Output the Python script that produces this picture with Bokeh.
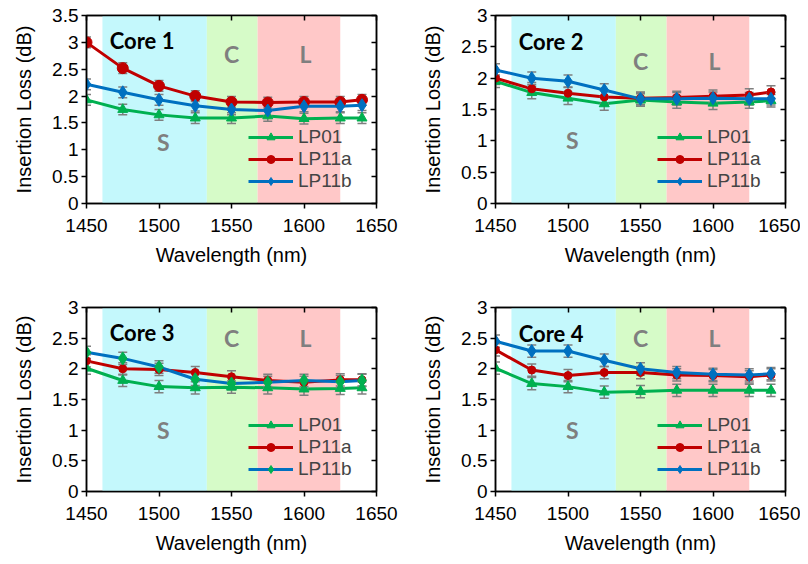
from bokeh.plotting import figure
from bokeh.models import (Range1d, LinearAxis, Legend, LegendItem, FixedTicker,
                          CustomJSTickFormatter)
from bokeh.layouts import column, row
from bokeh.embed import file_html
from bokeh.resources import INLINE
from bokeh.core.properties import value

# ---------------- data ----------------
wavelength = [1450, 1475, 1500, 1525, 1550, 1575, 1600, 1625, 1640]
x_ticks = [1450, 1500, 1550, 1600, 1650]
err = 0.1

band_names = ["S", "C", "L"]
band_start = [1461, 1533, 1568]
band_end = [1533, 1568, 1625]
band_label_x = [1503, 1550, 1601]

core_titles = ["Core 1", "Core 2", "Core 3", "Core 4"]
core_ymax = [3.5, 3.0, 3.0, 3.0]
core_title_y = [3.04, 2.59, 2.60, 2.58]
core_s_y = [1.14, 1.02, 1.01, 1.01]
core_cl_y = [2.78, 2.27, 2.50, 2.50]

core1_lp01 = [1.93, 1.75, 1.65, 1.59, 1.59, 1.63, 1.58, 1.59, 1.59]
core1_lp11a = [3.00, 2.52, 2.19, 2.00, 1.89, 1.88, 1.89, 1.89, 1.93]
core1_lp11b = [2.22, 2.07, 1.93, 1.82, 1.75, 1.73, 1.81, 1.81, 1.83]

core2_lp01 = [1.95, 1.77, 1.68, 1.59, 1.65, 1.62, 1.60, 1.62, 1.64]
core2_lp11a = [2.00, 1.83, 1.76, 1.70, 1.68, 1.69, 1.71, 1.73, 1.78]
core2_lp11b = [2.13, 2.00, 1.95, 1.81, 1.67, 1.67, 1.68, 1.67, 1.67]

core3_lp01 = [2.01, 1.81, 1.71, 1.69, 1.70, 1.69, 1.67, 1.68, 1.69]
core3_lp11a = [2.13, 2.00, 1.99, 1.94, 1.87, 1.81, 1.78, 1.82, 1.82]
core3_lp11b = [2.27, 2.17, 2.03, 1.83, 1.76, 1.78, 1.81, 1.79, 1.81]

core4_lp01 = [2.01, 1.76, 1.71, 1.62, 1.63, 1.65, 1.65, 1.65, 1.65]
core4_lp11a = [2.31, 1.98, 1.89, 1.94, 1.94, 1.90, 1.89, 1.87, 1.90]
core4_lp11b = [2.45, 2.29, 2.29, 2.14, 2.00, 1.94, 1.91, 1.90, 1.92]

series_names = ["LP01", "LP11a", "LP11b"]

# ---------------- style ----------------
GREEN = "#00B050"
RED = "#C00000"
BLUE = "#0070C0"
GRAY = "#7F7F7F"
band_colors = ["#C4F8FC", "#D6FBC8", "#FFC8C8"]
FONT = "Arial"
LABEL_FONT = "Lato"


def make_panel(idx, ys, width, height, bl, br, bt, bb, red_size, diamond_color):
    ymax = core_ymax[idx]
    p = figure(width=width, height=height, output_backend="svg", toolbar_location=None,
               x_range=Range1d(1450, 1650), y_range=Range1d(0, ymax),
               min_border_left=bl, min_border_right=br, min_border_top=bt, min_border_bottom=bb)
    p.grid.visible = False
    p.outline_line_color = "black"
    p.outline_line_width = 1.5
    p.background_fill_color = "white"
    p.border_fill_color = "white"

    # bands
    p.quad(left=band_start, right=band_end, bottom=[0] * 3, top=[ymax] * 3,
           fill_color=band_colors, line_color=None)

    colors = [GREEN, RED, BLUE]
    markers = ["triangle", "circle", "diamond"]
    msizes = [10, red_size, 13]
    mcolors = [GREEN, RED, diamond_color]
    items = []
    line_rs = []
    for k, y in enumerate(ys):
        lr = p.line(wavelength, y, line_color=colors[k], line_width=3)
        line_rs.append(lr)
    # error bars
    for k, y in enumerate(ys):
        lo = [v - err for v in y]
        hi = [v + err for v in y]
        p.segment(x0=wavelength, y0=lo, x1=wavelength, y1=hi, line_color=GRAY, line_width=1.5)
        p.scatter(wavelength, lo, marker="dash", size=9, line_color=GRAY, line_width=1.5)
        p.scatter(wavelength, hi, marker="dash", size=9, line_color=GRAY, line_width=1.5)
    for k, y in enumerate(ys):
        sr = p.scatter(wavelength, y, marker=markers[k], size=msizes[k],
                       fill_color=mcolors[k], line_color=mcolors[k])
        items.append(LegendItem(label=series_names[k], renderers=[line_rs[k], sr]))

    # band labels
    p.text(x=band_label_x, y=[core_s_y[idx], core_cl_y[idx], core_cl_y[idx]], text=band_names,
           text_font=value(LABEL_FONT), text_font_style="bold", text_font_size="23px",
           text_color=GRAY, text_align="center", text_baseline="middle")
    p.text(x=[1466], y=[core_title_y[idx]], text=[core_titles[idx]],
           text_font=value(LABEL_FONT), text_font_style="bold", text_font_size="22px",
           text_color="black", text_align="left", text_baseline="middle")

    legend = Legend(items=items, location=(162, 11))
    legend.label_text_font = FONT
    legend.label_text_font_size = "19px"
    legend.glyph_width = 45
    legend.glyph_height = 20
    legend.label_height = 20
    legend.spacing = 0
    legend.padding = 0
    legend.margin = 0
    legend.label_standoff = 5
    legend.border_line_color = None
    legend.background_fill_alpha = 0
    p.add_layout(legend)

    yticks = [i * 0.5 for i in range(int(ymax / 0.5) + 1)]
    p.xaxis.ticker = FixedTicker(ticks=x_ticks)
    p.yaxis.ticker = FixedTicker(ticks=yticks)
    for ax in (p.xaxis[0], p.yaxis[0]):
        ax.axis_line_width = 1.5
        ax.axis_line_color = "black"
        ax.major_tick_line_width = 1.5
        ax.major_tick_out = 5
        ax.major_tick_in = 0
        ax.minor_tick_line_color = None
        ax.major_label_text_font = FONT
        ax.major_label_text_font_size = "19px"
        ax.major_label_text_color = "black"
        ax.axis_label_text_font = FONT
        ax.axis_label_text_font_size = "20px"
        ax.axis_label_text_font_style = "normal"
        ax.axis_label_text_color = "black"
    p.xaxis.axis_label = "Wavelength (nm)"
    p.yaxis.axis_label = "Insertion Loss (dB)"
    p.xaxis.major_label_standoff = 10
    p.xaxis.axis_label_standoff = 9
    p.yaxis.major_label_standoff = 3
    p.yaxis.axis_label_standoff = 14

    blank = CustomJSTickFormatter(code="return '';")
    top = LinearAxis(ticker=FixedTicker(ticks=x_ticks), major_tick_in=5, major_tick_out=0,
                     minor_tick_line_color=None, axis_line_width=1.5, major_tick_line_width=1.5,
                     formatter=blank, major_label_standoff=0)
    right = LinearAxis(ticker=FixedTicker(ticks=yticks), major_tick_in=5, major_tick_out=0,
                       minor_tick_line_color=None, axis_line_width=1.5, major_tick_line_width=1.5,
                       formatter=blank, major_label_standoff=0)
    p.add_layout(top, "above")
    p.add_layout(right, "right")
    return p


p1 = make_panel(0, [core1_lp01, core1_lp11a, core1_lp11b], 417, 298, 86, 41, 15, 95, 11, BLUE)
p2 = make_panel(1, [core2_lp01, core2_lp11a, core2_lp11b], 383, 298, 78, 15, 15, 95, 8, BLUE)
p3 = make_panel(2, [core3_lp01, core3_lp11a, core3_lp11b], 417, 258, 86, 41, 8, 61, 8, GREEN)
p4 = make_panel(3, [core4_lp01, core4_lp11a, core4_lp11b], 383, 258, 78, 15, 9, 60, 8, BLUE)

layout = column(row(p1, p2), row(p3, p4))
open("out.html", "w").write(file_html(layout, INLINE))
